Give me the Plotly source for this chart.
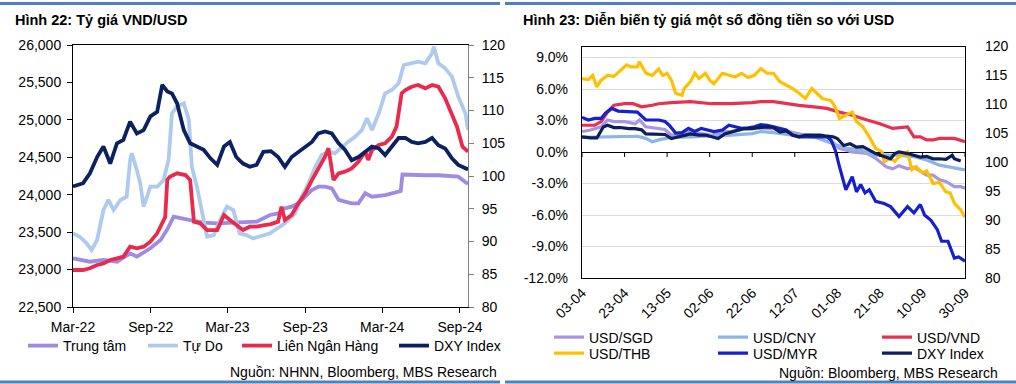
import plotly.graph_objects as go

# ---------------- Left panel: Hình 22 ----------------
tt_dates = ["2022-03-01", "2022-04-10", "2022-05-12", "2022-06-13", "2022-07-14", "2022-07-30", "2022-08-31",
            "2022-09-24", "2022-10-09", "2022-10-25", "2022-12-03", "2023-01-04", "2023-02-05", "2023-03-07",
            "2023-04-07", "2023-05-09", "2023-06-10", "2023-06-29", "2023-07-15", "2023-07-31", "2023-08-16",
            "2023-09-01", "2023-09-17", "2023-10-02", "2023-10-18", "2023-11-03", "2023-11-19", "2023-12-04",
            "2023-12-20", "2024-01-05", "2024-01-21", "2024-02-06", "2024-02-22", "2024-03-08", "2024-03-24",
            "2024-04-09", "2024-04-14", "2024-04-18", "2024-05-10", "2024-06-11", "2024-07-12", "2024-08-13",
            "2024-08-28", "2024-09-20"]
tt_vals = [23150, 23105, 23128, 23105, 23217, 23172, 23284, 23395, 23528, 23706, 23662, 23626, 23618, 23626,
           23626, 23640, 23729, 23751, 23818, 23840, 23885, 23973, 24063, 24107, 24107, 24085, 23930, 23907,
           23885, 23885, 24019, 23973, 23980, 23996, 24019, 24040, 24050, 24270, 24263, 24260, 24260, 24255,
           24241, 24143]

td_dates = ["2022-03-01", "2022-03-17", "2022-04-02", "2022-04-14", "2022-04-27", "2022-05-12", "2022-05-24",
            "2022-06-05", "2022-06-21", "2022-07-06", "2022-07-14", "2022-07-18", "2022-07-30", "2022-08-07",
            "2022-08-15", "2022-08-31", "2022-09-16", "2022-10-01", "2022-10-13", "2022-10-21", "2022-11-02",
            "2022-11-18", "2022-11-30", "2022-12-07", "2022-12-19", "2022-12-31", "2023-01-12", "2023-01-28",
            "2023-02-12", "2023-02-28", "2023-03-15", "2023-03-30", "2023-04-15", "2023-05-01", "2023-05-16",
            "2023-06-10", "2023-06-21", "2023-07-15", "2023-08-08", "2023-08-24", "2023-09-09", "2023-09-25",
            "2023-10-10", "2023-10-26", "2023-11-10", "2023-11-27", "2023-12-12", "2023-12-28", "2024-01-13",
            "2024-01-25", "2024-02-06", "2024-02-22", "2024-03-08", "2024-03-24", "2024-04-09", "2024-04-21",
            "2024-05-10", "2024-05-25", "2024-06-11", "2024-06-27", "2024-07-01", "2024-07-12", "2024-07-28",
            "2024-08-13", "2024-08-28", "2024-09-14", "2024-09-20"]
td_vals = [23484, 23439, 23350, 23261, 23395, 23796, 23930, 23796, 23930, 23973, 24464, 24553, 24330, 24152,
           23840, 24107, 24107, 24196, 24464, 25088, 25176, 25221, 24998, 24374, 24107, 23796, 23439, 23460,
           23662, 23840, 23796, 23484, 23460, 23417, 23440, 23484, 23528, 23618, 23751, 23973, 24152, 24374,
           24530, 24575, 24553, 24642, 24709, 24775, 24864, 25021, 24864, 25088, 25354, 25399, 25488, 25733,
           25755, 25777, 25755, 25889, 25978, 25755, 25689, 25577, 25310, 25088, 24864]

lnh_dates = ["2022-03-01", "2022-03-25", "2022-04-10", "2022-04-27", "2022-05-12", "2022-05-28", "2022-06-13",
             "2022-06-28", "2022-07-14", "2022-07-30", "2022-08-15", "2022-08-31", "2022-09-16", "2022-10-01",
             "2022-10-05", "2022-10-10", "2022-10-16", "2022-11-02", "2022-11-22", "2022-12-03", "2022-12-12",
             "2022-12-27", "2023-01-12", "2023-02-05", "2023-02-21", "2023-03-07", "2023-03-22", "2023-04-07",
             "2023-04-23", "2023-05-09", "2023-05-28", "2023-06-10", "2023-06-29", "2023-07-07", "2023-07-15",
             "2023-07-31", "2023-08-16", "2023-09-01", "2023-09-17", "2023-10-02", "2023-10-18", "2023-10-26",
             "2023-11-07", "2023-11-19", "2023-12-04", "2023-12-20", "2024-01-05", "2024-01-21", "2024-01-28",
             "2024-02-06", "2024-02-22", "2024-03-08", "2024-03-24", "2024-04-04", "2024-04-16", "2024-04-25",
             "2024-05-10", "2024-05-25", "2024-06-11", "2024-06-27", "2024-07-12", "2024-07-28", "2024-08-13",
             "2024-08-25", "2024-09-07", "2024-09-20"]
lnh_vals = [22994, 22994, 23017, 23061, 23083, 23128, 23150, 23172, 23306, 23284, 23306, 23372, 23484, 23640,
            23700, 24200, 24241, 24286, 24263, 24196, 23640, 23618, 23528, 23528, 23729, 23662, 23595, 23528,
            23573, 23573, 23595, 23605, 23640, 23840, 23662, 23729, 23885, 24019, 24196, 24352, 24508, 24620,
            24196, 24286, 24308, 24352, 24441, 24575, 24464, 24597, 24664, 24686, 24775, 24909, 25354, 25399,
            25443, 25466, 25421, 25466, 25443, 25288, 25088, 24909, 24642, 24575]

dxyl_dates = ["2022-03-01", "2022-03-25", "2022-04-10", "2022-04-27", "2022-05-12", "2022-05-28", "2022-06-13",
              "2022-06-28", "2022-07-14", "2022-07-30", "2022-08-15", "2022-08-31", "2022-09-16", "2022-09-28",
              "2022-10-10", "2022-10-21", "2022-11-02", "2022-11-18", "2022-12-03", "2022-12-19", "2023-01-04",
              "2023-01-20", "2023-02-05", "2023-02-21", "2023-03-07", "2023-03-22", "2023-04-07", "2023-04-23",
              "2023-05-09", "2023-05-25", "2023-06-12", "2023-06-29", "2023-07-15", "2023-07-31", "2023-08-16",
              "2023-09-01", "2023-09-17", "2023-10-02", "2023-10-18", "2023-11-03", "2023-11-19", "2023-12-04",
              "2023-12-20", "2024-01-05", "2024-01-21", "2024-02-06", "2024-02-22", "2024-03-08", "2024-03-24",
              "2024-04-09", "2024-04-25", "2024-05-10", "2024-05-25", "2024-06-11", "2024-06-27", "2024-07-12",
              "2024-07-28", "2024-08-13", "2024-08-28", "2024-09-14", "2024-09-20"]
dxyl_vals = [98.4, 98.9, 100.4, 102.9, 104.5, 101.9, 105.0, 105.5, 108.3, 106.5, 107.0, 109.1, 109.8, 113.9,
             112.9, 112.6, 111.1, 107.0, 105.0, 104.5, 104.0, 102.7, 101.7, 104.5, 105.2, 102.9, 101.9, 101.4,
             101.7, 103.7, 103.8, 102.9, 101.4, 102.9, 103.7, 104.5, 105.2, 106.5, 106.8, 106.5, 105.0, 104.0,
             102.4, 102.9, 103.7, 104.5, 104.2, 103.2, 104.5, 105.8, 105.8, 105.2, 105.0, 105.2, 105.8, 104.7,
             104.2, 102.7, 101.7, 101.2, 101.0]

# ---------------- Right panel: Hình 23 ----------------
r_tick_dates = ["2024-04-03", "2024-04-23", "2024-05-13", "2024-06-02", "2024-06-22",
                "2024-07-12", "2024-08-01", "2024-08-21", "2024-09-10", "2024-09-30"]
r_pct_ticks = [-12, -9, -6, -3, 0, 3, 6, 9]
r_pct_labels = ["-12.0%", "-9.0%", "-6.0%", "-3.0%", "0.0%", "3.0%", "6.0%", "9.0%"]

sgd_dates = ["2024-04-03", "2024-04-07", "2024-04-12", "2024-04-15", "2024-04-18", "2024-04-23", "2024-04-28",
             "2024-04-30", "2024-05-03", "2024-05-07", "2024-05-12", "2024-05-15", "2024-05-20", "2024-05-24",
             "2024-05-29", "2024-06-03", "2024-06-08", "2024-06-12", "2024-06-17", "2024-06-22", "2024-06-26",
             "2024-07-02", "2024-07-08", "2024-07-17", "2024-07-27", "2024-08-02", "2024-08-08", "2024-08-15",
             "2024-08-19", "2024-08-24", "2024-08-27", "2024-08-30", "2024-09-03", "2024-09-06", "2024-09-09",
             "2024-09-12", "2024-09-15", "2024-09-18", "2024-09-21", "2024-09-25", "2024-09-28", "2024-09-30"]
sgd_vals = [1.95, 2.1, 2.4, 3.05, 2.9, 2.9, 2.7, 3.05, 2.4, 2.3, 2.15, 1.6, 1.75, 1.95, 1.75, 1.6, 1.95, 1.95,
            2.15, 2.25, 2.3, 2.2, 2.0, 1.6, 1.5, 0.35, 0.0, -0.13, -0.6, -1.4, -1.6, -1.3, -1.6, -1.45, -1.85,
            -2.2, -2.2, -2.65, -2.8, -3.3, -3.3, -3.45]

cny_dates = ["2024-04-03", "2024-04-14", "2024-04-23", "2024-04-29", "2024-05-03", "2024-05-06", "2024-05-10",
             "2024-05-15", "2024-05-24", "2024-06-03", "2024-06-12", "2024-06-22", "2024-06-26", "2024-07-02",
             "2024-07-11", "2024-07-21", "2024-07-30", "2024-08-05", "2024-08-12", "2024-08-18", "2024-08-24",
             "2024-08-30", "2024-09-06", "2024-09-12", "2024-09-18", "2024-09-25", "2024-09-30"]
cny_vals = [1.4, 1.45, 1.5, 1.5, 1.3, 0.98, 1.2, 1.4, 1.45, 1.5, 1.6, 1.75, 1.95, 1.85, 1.6, 1.45, 0.8, 0.35,
            0.2, -0.3, -0.3, -0.3, -0.45, -0.76, -1.25, -1.55, -1.7]

vnd_dates = ["2024-04-03", "2024-04-09", "2024-04-12", "2024-04-15", "2024-04-18", "2024-04-23", "2024-04-27",
             "2024-05-01", "2024-05-06", "2024-05-09", "2024-05-15", "2024-05-24", "2024-06-03", "2024-06-12",
             "2024-06-22", "2024-06-26", "2024-07-02", "2024-07-08", "2024-07-14", "2024-07-21", "2024-07-27",
             "2024-08-02", "2024-08-08", "2024-08-15", "2024-08-21", "2024-08-27", "2024-09-03", "2024-09-06",
             "2024-09-09", "2024-09-12", "2024-09-15", "2024-09-18", "2024-09-25", "2024-09-30"]
vnd_vals = [2.55, 2.55, 2.9, 3.8, 4.45, 4.6, 4.6, 4.3, 4.45, 4.6, 4.7, 4.8, 4.6, 4.6, 4.7, 4.8, 4.8, 4.6, 4.45,
            4.3, 4.15, 3.8, 3.5, 3.05, 2.7, 2.25, 2.4, 1.45, 1.45, 1.15, 1.15, 1.3, 1.3, 0.98]

thb_dates = ["2024-04-03", "2024-04-06", "2024-04-08", "2024-04-10", "2024-04-12", "2024-04-15", "2024-04-18",
             "2024-04-21", "2024-04-24", "2024-04-26", "2024-04-29", "2024-04-30", "2024-05-03", "2024-05-06",
             "2024-05-09", "2024-05-11", "2024-05-13", "2024-05-15", "2024-05-17", "2024-05-20", "2024-05-21",
             "2024-05-24", "2024-05-26", "2024-05-28", "2024-05-31", "2024-06-02", "2024-06-04", "2024-06-08",
             "2024-06-11", "2024-06-14", "2024-06-17", "2024-06-20", "2024-06-23", "2024-06-26", "2024-06-29",
             "2024-07-02", "2024-07-05", "2024-07-08", "2024-07-11", "2024-07-14", "2024-07-17", "2024-07-20",
             "2024-07-22", "2024-07-25", "2024-07-29", "2024-07-31", "2024-08-02", "2024-08-05", "2024-08-08",
             "2024-08-10", "2024-08-13", "2024-08-16", "2024-08-19", "2024-08-22", "2024-08-23", "2024-08-26",
             "2024-08-28", "2024-08-30", "2024-09-03", "2024-09-05", "2024-09-07", "2024-09-10", "2024-09-12",
             "2024-09-15", "2024-09-18", "2024-09-21", "2024-09-23", "2024-09-25", "2024-09-28", "2024-09-30"]
thb_vals = [7.0, 6.9, 7.3, 6.2, 6.85, 7.3, 7.2, 7.8, 8.3, 8.1, 8.1, 8.6, 7.5, 7.3, 7.9, 7.3, 7.5, 6.85, 5.6,
            5.4, 6.05, 6.7, 7.5, 7.0, 7.5, 6.85, 6.5, 7.5, 7.3, 7.15, 7.5, 7.1, 7.3, 7.95, 7.5, 7.5, 6.7, 6.4,
            6.05, 5.6, 5.1, 6.05, 5.7, 5.1, 4.9, 4.3, 3.2, 3.5, 3.8, 2.9, 2.4, 1.45, 0.35, 0.0, -0.9, -0.6,
            -0.9, -0.45, 0.0, -1.7, -1.4, -2.0, -1.8, -3.0, -2.9, -3.8, -3.9, -4.9, -5.5, -6.2]

myr_dates = ["2024-04-03", "2024-04-06", "2024-04-09", "2024-04-12", "2024-04-14", "2024-04-17", "2024-04-20",
             "2024-04-23", "2024-04-26", "2024-04-29", "2024-05-03", "2024-05-06", "2024-05-09", "2024-05-12",
             "2024-05-14", "2024-05-17", "2024-05-20", "2024-05-23", "2024-05-26", "2024-05-29", "2024-06-01",
             "2024-06-04", "2024-06-08", "2024-06-11", "2024-06-14", "2024-06-17", "2024-06-20", "2024-06-23",
             "2024-06-26", "2024-06-29", "2024-07-02", "2024-07-05", "2024-07-08", "2024-07-11", "2024-07-14",
             "2024-07-18", "2024-07-21", "2024-07-24", "2024-07-27", "2024-07-29", "2024-07-31", "2024-08-02",
             "2024-08-05", "2024-08-08", "2024-08-10", "2024-08-12", "2024-08-14", "2024-08-16", "2024-08-19",
             "2024-08-23", "2024-08-26", "2024-08-30", "2024-09-03", "2024-09-06", "2024-09-09", "2024-09-11",
             "2024-09-14", "2024-09-17", "2024-09-19", "2024-09-22", "2024-09-24", "2024-09-25", "2024-09-27",
             "2024-09-30"]
myr_vals = [3.3, 3.05, 3.2, 3.2, 3.7, 4.15, 3.9, 3.85, 3.85, 3.8, 3.05, 3.05, 3.05, 2.9, 2.55, 1.8, 1.85, 2.25,
            1.95, 2.25, 2.1, 1.95, 2.1, 2.55, 2.4, 2.25, 2.3, 2.4, 2.6, 2.55, 2.4, 2.25, 2.1, 1.6, 1.45, 1.45,
            1.45, 1.45, 1.45, 1.15, 0.2, -1.4, -3.6, -2.35, -3.8, -3.1, -3.9, -3.6, -4.7, -4.9, -5.2, -6.15,
            -5.2, -5.8, -5.0, -6.0, -6.5, -7.4, -8.5, -8.5, -9.5, -10.1, -10.0, -10.4]

dxyr_dates = ["2024-04-03", "2024-04-07", "2024-04-10", "2024-04-13", "2024-04-15", "2024-04-18", "2024-04-21",
              "2024-04-25", "2024-04-28", "2024-05-01", "2024-05-03", "2024-05-06", "2024-05-09", "2024-05-12",
              "2024-05-15", "2024-05-18", "2024-05-21", "2024-05-24", "2024-05-28", "2024-05-31", "2024-06-03",
              "2024-06-06", "2024-06-09", "2024-06-12", "2024-06-15", "2024-06-18", "2024-06-22", "2024-06-25",
              "2024-06-29", "2024-07-02", "2024-07-05", "2024-07-08", "2024-07-11", "2024-07-14", "2024-07-17",
              "2024-07-21", "2024-07-24", "2024-07-27", "2024-07-30", "2024-08-01", "2024-08-04", "2024-08-07",
              "2024-08-10", "2024-08-13", "2024-08-16", "2024-08-19", "2024-08-23", "2024-08-26", "2024-08-28",
              "2024-08-30", "2024-09-03", "2024-09-06", "2024-09-09", "2024-09-12", "2024-09-15", "2024-09-18",
              "2024-09-21", "2024-09-24", "2024-09-25", "2024-09-28"]
dxyr_vals = [104.4, 104.2, 104.2, 106.1, 106.4, 106.0, 106.0, 105.8, 105.8, 105.6, 104.9, 104.9, 104.9, 104.8,
             104.1, 104.4, 104.6, 104.9, 104.7, 104.7, 104.4, 104.1, 104.9, 105.2, 105.5, 105.8, 105.8, 106.0,
             106.1, 106.0, 105.2, 105.4, 104.7, 104.4, 104.7, 104.7, 104.7, 104.5, 104.4, 104.1, 102.9, 103.2,
             102.6, 102.7, 102.1, 101.5, 101.0, 100.6, 101.5, 101.8, 101.5, 101.2, 100.9, 101.0, 100.6, 100.6,
             100.5, 101.2, 100.6, 100.2]

# ---------------- Figure ----------------
W, H = 1016, 384
FONT = "Liberation Sans, Arial, sans-serif"


def px_x(p):
    return p / W


def px_y(p):
    return 1 - p / H


fig = go.Figure()

# each left legend item gets its own legend box so its position matches the original
left_series = [
    ("Trung tâm", tt_dates, tt_vals, "#9D8BE4", "y", "legend", 23),
    ("Tự Do", td_dates, td_vals, "#AECBEE", "y", "legend4", 143),
    ("Liên Ngân Hàng", lnh_dates, lnh_vals, "#EA2A4C", "y", "legend5", 237),
    ("DXY Index", dxyl_dates, dxyl_vals, "#0B2160", "y2", "legend6", 394),
]
for name, xs, ys, col, ya, lg, _ in left_series:
    fig.add_trace(go.Scatter(x=xs, y=ys, name=name, mode="lines", showlegend=True,
                             line=dict(color=col, width=3.8), xaxis="x", yaxis=ya,
                             legend=lg, hoverinfo="skip"))

right_series = [
    ("USD/SGD", sgd_dates, sgd_vals, "#A896E2", "y3", "legend2"),
    ("USD/CNY", cny_dates, cny_vals, "#8DB4E2", "y3", "legend2"),
    ("USD/VND", vnd_dates, vnd_vals, "#E8304F", "y3", "legend2"),
    ("USD/THB", thb_dates, thb_vals, "#FFC000", "y3", "legend3"),
    ("USD/MYR", myr_dates, myr_vals, "#1620CF", "y3", "legend3"),
    ("DXY Index", dxyr_dates, dxyr_vals, "#0C1F5A", "y4", "legend3"),
]
for name, xs, ys, col, ya, lg in right_series:
    fig.add_trace(go.Scatter(x=xs, y=ys, name=name, mode="lines", showlegend=True,
                             line=dict(color=col, width=3.2), xaxis="x2", yaxis=ya,
                             legend=lg, hoverinfo="skip"))

tickfont = dict(family=FONT, size=14, color="#000000")
legfont = dict(family=FONT, size=14, color="#000000")

r_y0, r_y1 = px_y(278), px_y(46.5)
r_range = [-12, 10.05]

layout_legends = {}
for name, _, _, _, _, lg, lx in left_series:
    layout_legends[lg] = dict(orientation="h", x=px_x(lx), y=px_y(346), xanchor="left", yanchor="middle",
                              bgcolor="rgba(0,0,0,0)", font=legfont, itemwidth=30)
layout_legends["legend2"] = dict(orientation="h", x=px_x(549), y=px_y(337.5), xanchor="left",
                                 yanchor="middle", bgcolor="rgba(0,0,0,0)", font=legfont,
                                 entrywidth=119, entrywidthmode="pixels", itemwidth=30)
layout_legends["legend3"] = dict(orientation="h", x=px_x(549), y=px_y(353.5), xanchor="left",
                                 yanchor="middle", bgcolor="rgba(0,0,0,0)", font=legfont,
                                 entrywidth=119, entrywidthmode="pixels", itemwidth=30)

fig.update_layout(
    width=W, height=H,
    showlegend=True,
    margin=dict(l=0, r=0, t=0, b=0, autoexpand=False),
    paper_bgcolor="white", plot_bgcolor="white",
    font=dict(family=FONT, size=14, color="#000000"),
    xaxis=dict(domain=[px_x(73), px_x(468)], anchor="y", type="date",
               range=["2022-03-01", "2024-09-20"], tick0="2022-03-01", dtick="M6",
               tickformat="%b-%y", ticks="outside", ticklen=5, tickcolor="#000000",
               showline=True, linecolor="#000000", linewidth=1, mirror=True,
               showgrid=False, zeroline=False, tickfont=tickfont, automargin=False,
               ticklabelstandoff=2),
    yaxis=dict(domain=[px_y(307), px_y(45)], anchor="x", range=[22500, 26000], dtick=500,
               tickformat=",", ticks="outside", ticklen=5, tickcolor="#000000",
               showline=True, linecolor="#000000", linewidth=1, showgrid=False, zeroline=False,
               tickfont=tickfont, automargin=False, ticklabelstandoff=3),
    yaxis2=dict(overlaying="y", side="right", anchor="x", range=[80, 120], dtick=5,
                ticks="outside", ticklen=5, tickcolor="#808080",
                showline=True, linecolor="#808080", linewidth=1, showgrid=False, zeroline=False,
                tickfont=tickfont, automargin=False, ticklabelstandoff=5),
    xaxis2=dict(domain=[px_x(582), px_x(965)], anchor="y3", type="date",
                range=["2024-04-03", "2024-09-30"], tickvals=r_tick_dates, tickformat="%d-%m",
                tickangle=-45, ticks="", showline=True, linecolor="#000000", linewidth=1.3,
                mirror=True, showgrid=False, zeroline=False, tickfont=tickfont, automargin=False),
    yaxis3=dict(domain=[r_y0, r_y1], anchor="x2", range=r_range,
                tickvals=r_pct_ticks, ticktext=r_pct_labels, ticks="",
                showline=True, linecolor="#000000", linewidth=1.3, mirror=True,
                showgrid=True, gridcolor="#DDDDDD", gridwidth=1,
                zeroline=True, zerolinecolor="#000000", zerolinewidth=1.2,
                ticklabelstandoff=10, tickfont=tickfont, automargin=False),
    yaxis4=dict(overlaying="y3", side="right", anchor="x2", range=[80, 120], dtick=5,
                ticks="", showline=False, showgrid=False, zeroline=False,
                ticklabelstandoff=19, tickfont=tickfont, automargin=False),
    **layout_legends,
)

# category-axis tick marks hanging below the 0% line (right panel)
shapes = []
for d in r_tick_dates:
    shapes.append(dict(type="line", xref="x2", yref="y3", x0=d, x1=d, y0=0, y1=-5,
                       ysizemode="pixel", yanchor=0, line=dict(color="#000000", width=1)))
# blue separator rules
rule = dict(color="#4F81BD", width=3)
shapes += [
    dict(type="line", xref="paper", yref="paper", x0=0, x1=px_x(500), y0=px_y(3.5), y1=px_y(3.5), line=rule),
    dict(type="line", xref="paper", yref="paper", x0=px_x(505), x1=1, y0=px_y(3.5), y1=px_y(3.5), line=rule),
    dict(type="line", xref="paper", yref="paper", x0=0, x1=px_x(500), y0=px_y(382), y1=px_y(382), line=rule),
    dict(type="line", xref="paper", yref="paper", x0=px_x(505), x1=1, y0=px_y(382), y1=px_y(382), line=rule),
]
fig.update_layout(shapes=shapes)

annots = [
    dict(text="<b>Hình 22: Tỷ giá VND/USD</b>", x=px_x(13), y=px_y(20.5), xanchor="left", yanchor="middle",
         font=dict(family=FONT, size=14.5, color="#000000")),
    dict(text="<b>Hình 23: Diễn biến tỷ giá một số đồng tiền so với USD</b>", x=px_x(521), y=px_y(20.5),
         xanchor="left", yanchor="middle", font=dict(family=FONT, size=14.5, color="#000000")),
    dict(text="Nguồn: NHNN, Bloomberg, MBS Research", x=px_x(499), y=px_y(372), xanchor="right",
         yanchor="middle", font=dict(family=FONT, size=14, color="#000000")),
    dict(text="Nguồn: Bloomberg, MBS Research", x=px_x(1000), y=px_y(373), xanchor="right",
         yanchor="middle", font=dict(family=FONT, size=14, color="#000000")),
]
for a in annots:
    a.update(xref="paper", yref="paper", showarrow=False)
fig.update_layout(annotations=annots)

fig.write_html("out.html", config={"displayModeBar": False},
               post_script="document.body.style.margin='0';document.body.style.overflow='hidden';")
